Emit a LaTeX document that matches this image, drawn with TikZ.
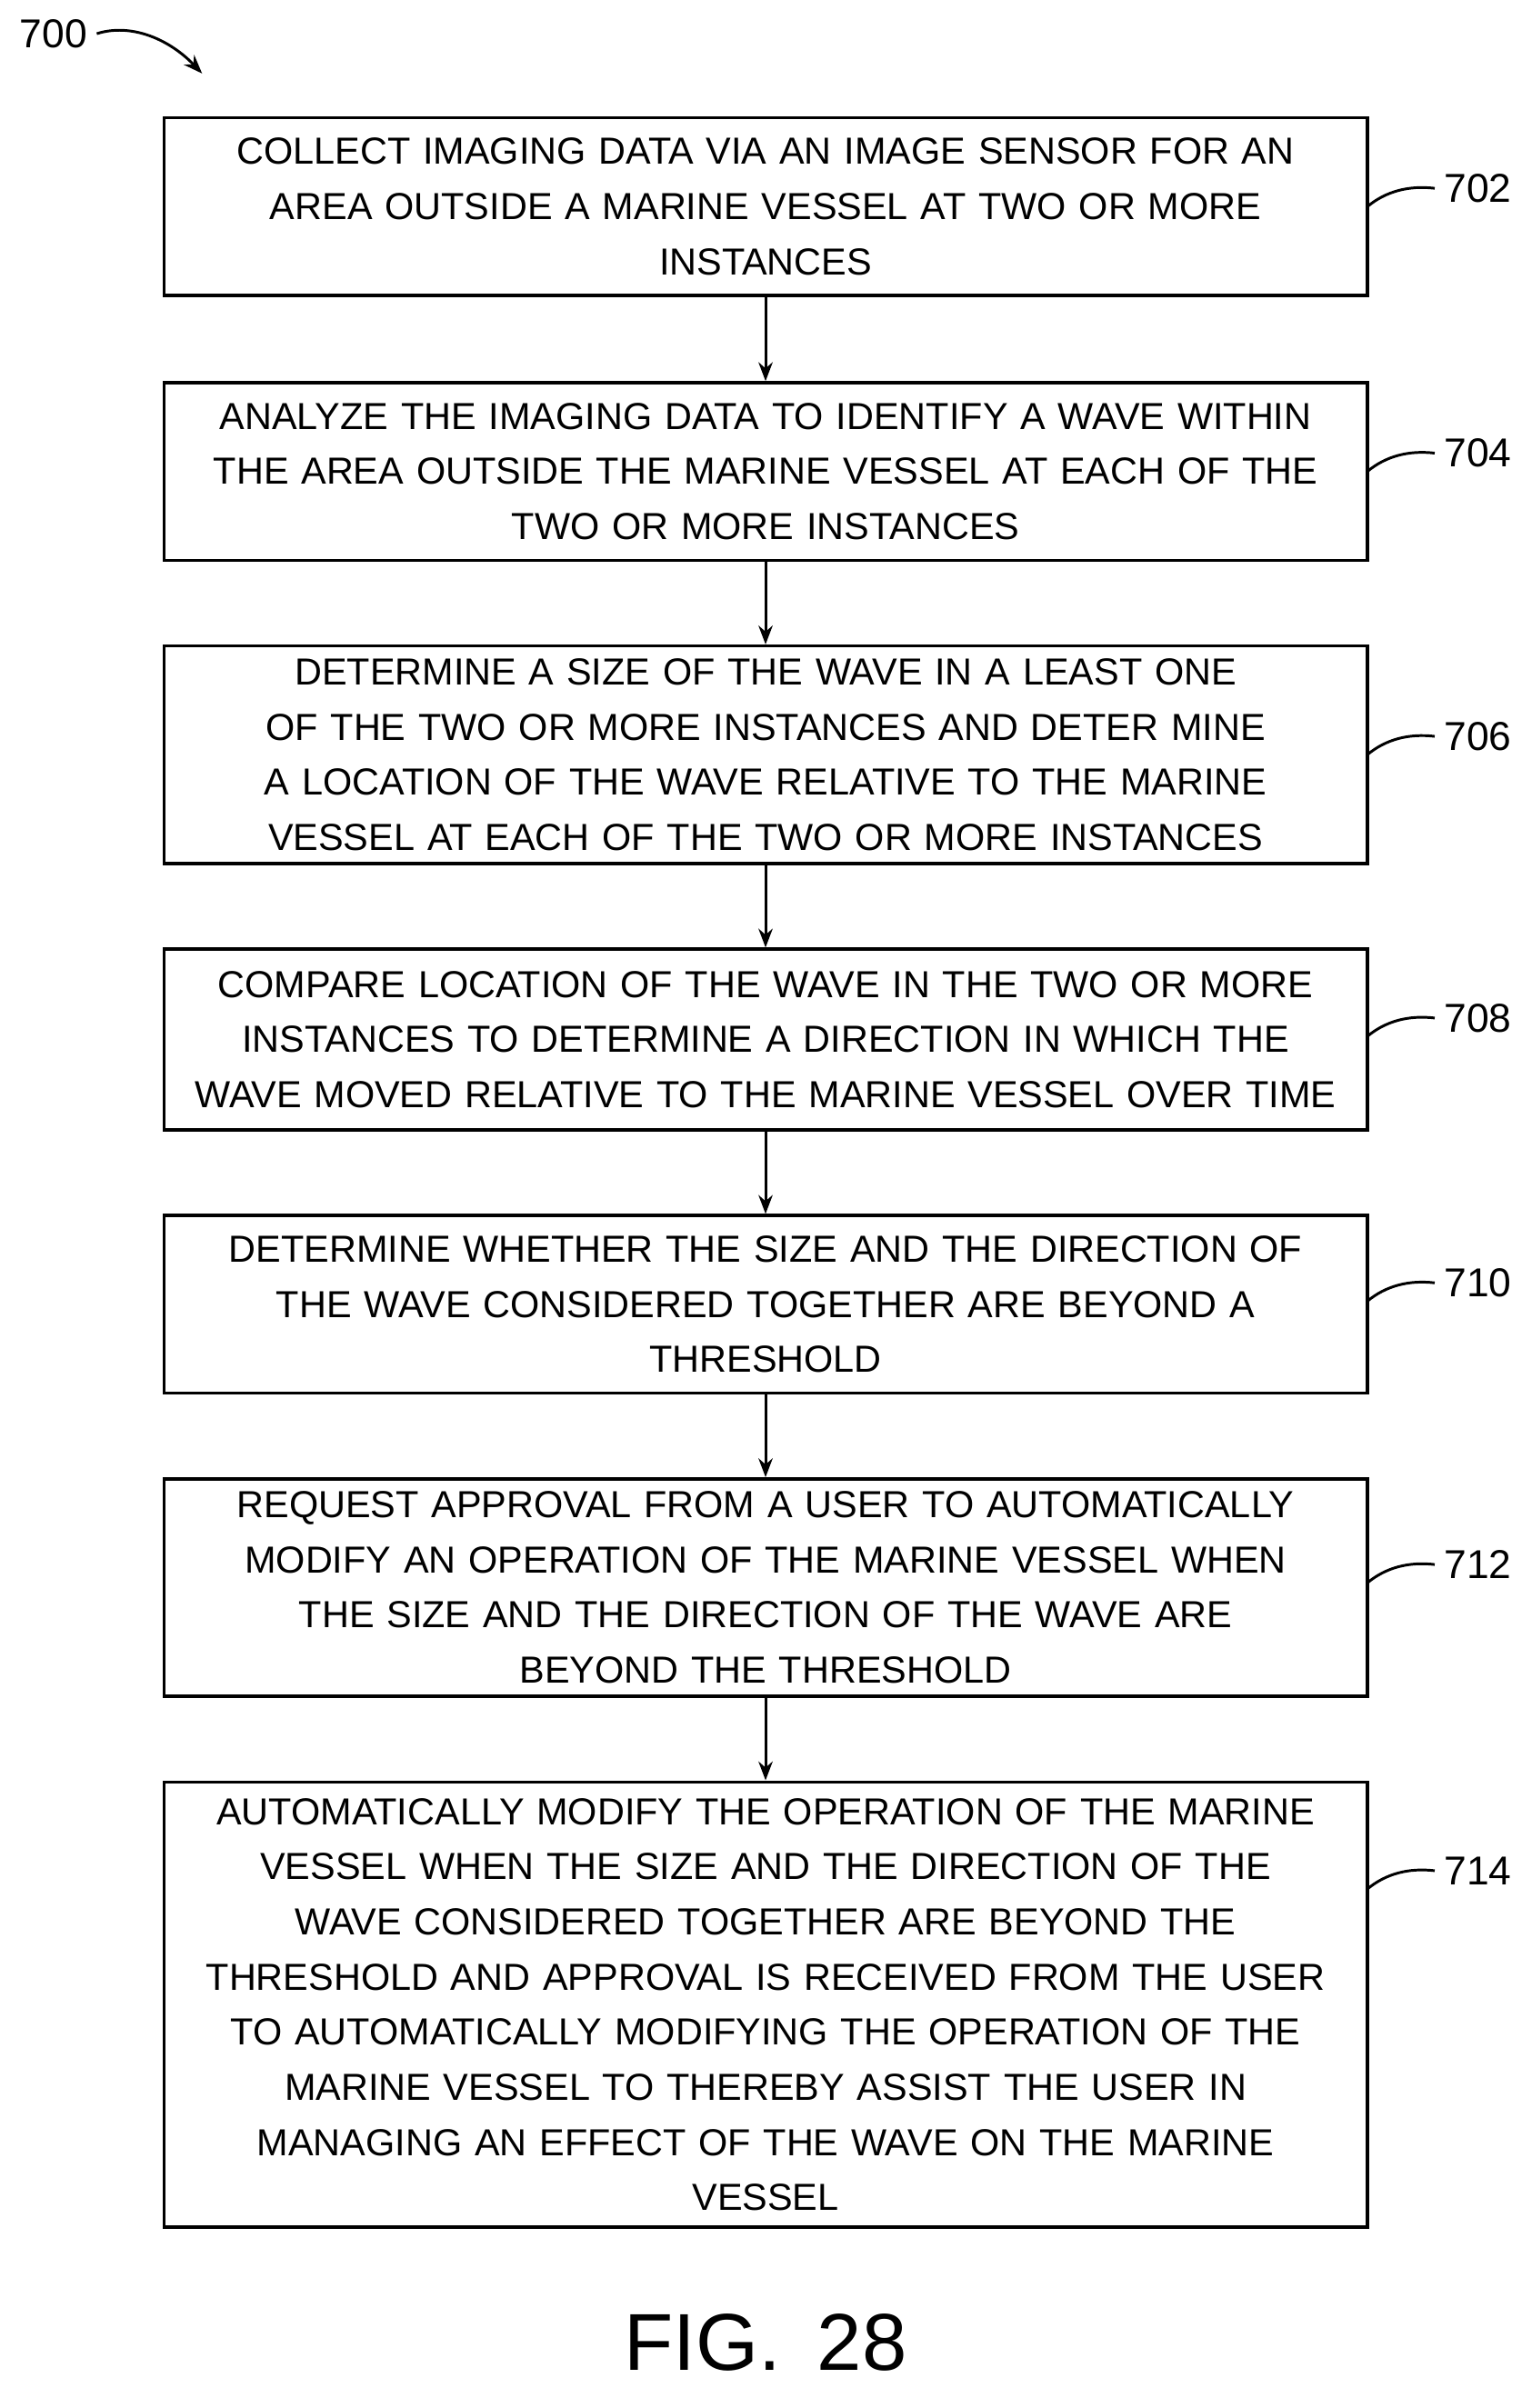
\documentclass[tikz,border=0pt]{standalone}
\usepackage{fontspec}
\setmainfont{Liberation Sans}[WordSpace={1.6}]
\usetikzlibrary{arrows.meta}
\tikzset{
	stepbox/.style={draw, line width=1.2pt, minimum width=15.72cm, text width=15.6cm, align=center, font=\fontsize{14}{20.5}\selectfont, inner sep=1pt},
	flow/.style={-{Stealth[length=7pt]}, line width=1pt},
	lead/.style={line width=1pt},
	tag/.style={font=\fontsize{15}{15}\selectfont, anchor=west}
}
\begin{document}
\begin{tikzpicture}[x=0.02cm, y=-0.02cm]
	\useasboundingbox (0,0) rectangle (1000,1573);
	\node[stepbox, minimum height=2.32cm] (s702) at (500,135) {COLLECT IMAGING DATA VIA AN IMAGE SENSOR FOR AN\\ AREA OUTSIDE A MARINE VESSEL AT TWO OR MORE\\ INSTANCES};
	\node[stepbox, minimum height=2.32cm] (s704) at (500,308) {ANALYZE THE IMAGING DATA TO IDENTIFY A WAVE WITHIN\\ THE AREA OUTSIDE THE MARINE VESSEL AT EACH OF THE\\ TWO OR MORE INSTANCES};
	\node[stepbox, minimum height=2.84cm] (s706) at (500,493) {DETERMINE A SIZE OF THE WAVE IN A LEAST ONE\\ OF THE TWO OR MORE INSTANCES AND DETER MINE\\ A LOCATION OF THE WAVE RELATIVE TO THE MARINE\\ VESSEL AT EACH OF THE TWO OR MORE INSTANCES};
	\node[stepbox, minimum height=2.36cm] (s708) at (500,679) {COMPARE LOCATION OF THE WAVE IN THE TWO OR MORE\\ INSTANCES TO DETERMINE A DIRECTION IN WHICH THE\\ WAVE MOVED RELATIVE TO THE MARINE VESSEL OVER TIME};
	\node[stepbox, minimum height=2.32cm] (s710) at (500,852) {DETERMINE WHETHER THE SIZE AND THE DIRECTION OF\\ THE WAVE CONSIDERED TOGETHER ARE BEYOND A\\ THRESHOLD};
	\node[stepbox, minimum height=2.84cm] (s712) at (500,1037) {REQUEST APPROVAL FROM A USER TO AUTOMATICALLY\\ MODIFY AN OPERATION OF THE MARINE VESSEL WHEN\\ THE SIZE AND THE DIRECTION OF THE WAVE ARE\\ BEYOND THE THRESHOLD};
	\node[stepbox, minimum height=5.82cm] (s714) at (500,1309.5) {AUTOMATICALLY MODIFY THE OPERATION OF THE MARINE\\ VESSEL WHEN THE SIZE AND THE DIRECTION OF THE\\ WAVE CONSIDERED TOGETHER ARE BEYOND THE\\ THRESHOLD AND APPROVAL IS RECEIVED FROM THE USER\\ TO AUTOMATICALLY MODIFYING THE OPERATION OF THE\\ MARINE VESSEL TO THEREBY ASSIST THE USER IN\\ MANAGING AN EFFECT OF THE WAVE ON THE MARINE\\ VESSEL};
	% arrows between steps
	\foreach \a/\b in {702/704,704/706,706/708,708/710,710/712,712/714}
		\draw[flow] (s\a.south) -- (s\b.north);
	% reference numerals
	\foreach \n/\y in {702/123,704/296,706/481,708/665,710/838,712/1022,714/1222} {
		\node[tag] (t\n) at (937,\y) {\n};
		\draw[lead] (893,\y+12) .. controls (905,\y+2) and (920,\y-2) .. (t\n.west);
	}
	\node[font=\fontsize{15}{15}\selectfont] (t700) at (35,22) {700};
	\coordinate (p700) at (132,48);
	\draw[-{Stealth[length=7pt]}, line width=1pt] (t700.east) .. controls (85,15) and (110,25) .. (p700);
	\node[font=\fontsize{30}{30}\selectfont] (fig) at (500,1530) {FIG. 28};
\end{tikzpicture}
\end{document}
